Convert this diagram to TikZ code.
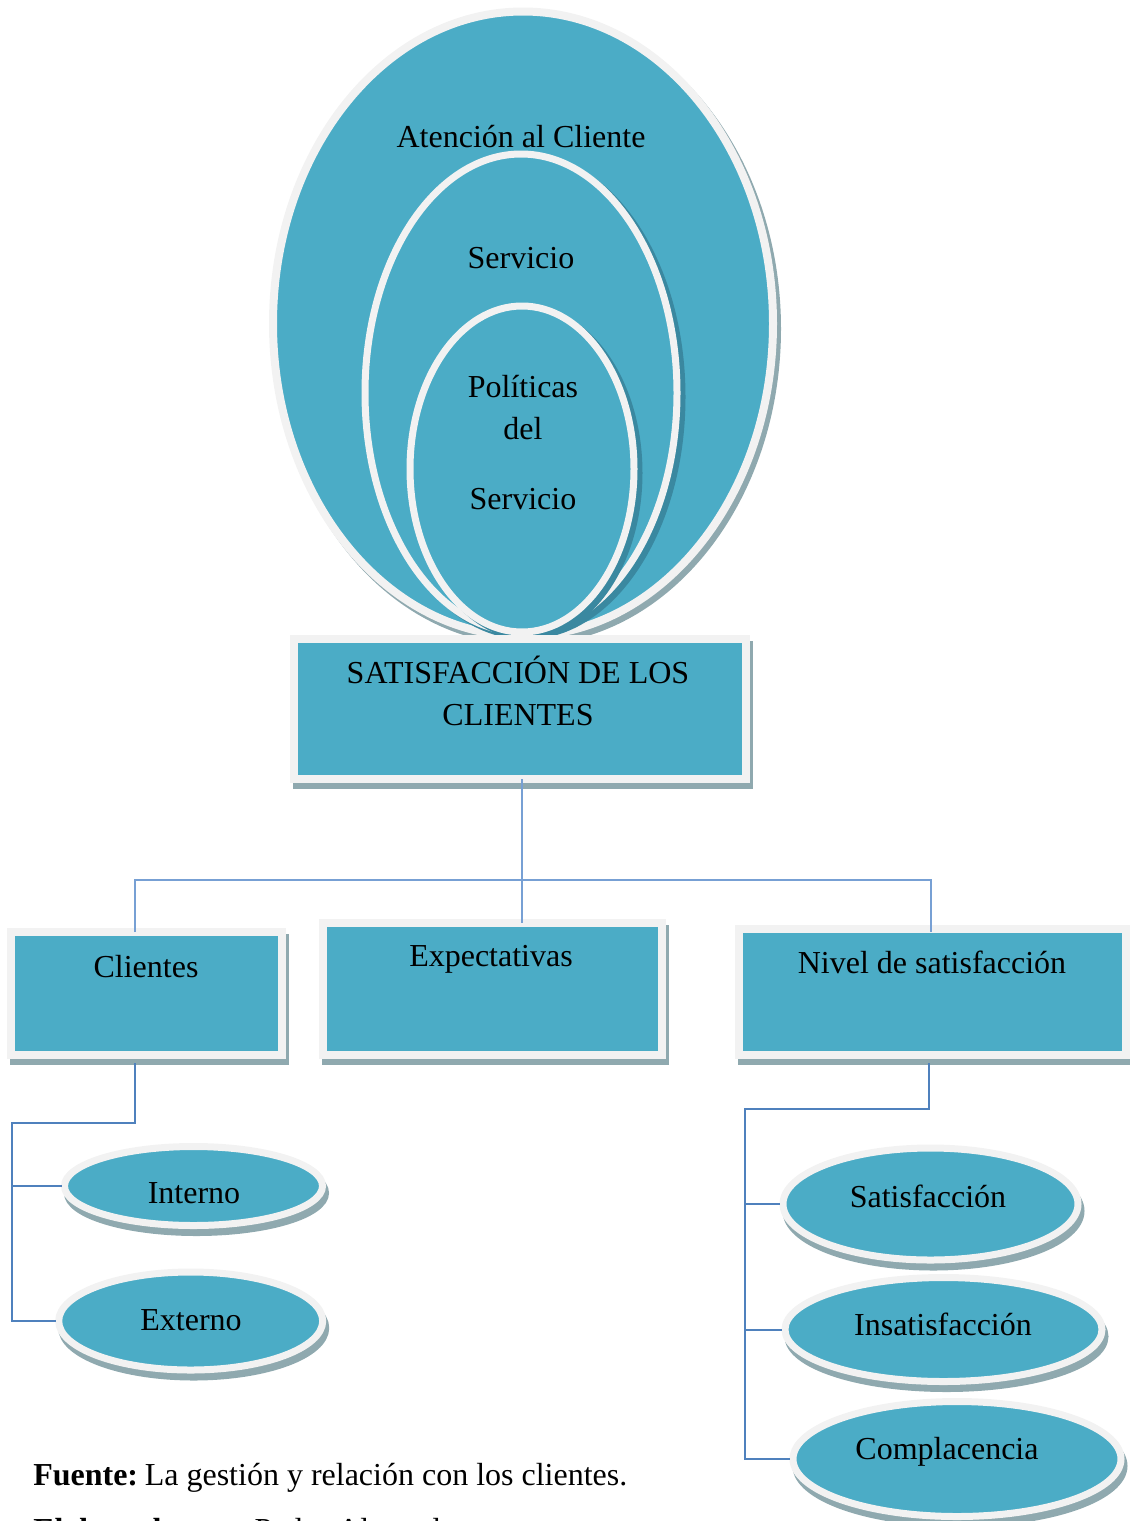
\documentclass[tikz,border=0pt]{standalone}
\usepackage{fontspec}
\setmainfont{Liberation Serif}
\usetikzlibrary{shapes.geometric,shadows}

\definecolor{aqua}{HTML}{4BACC6}
\definecolor{rim}{HTML}{F2F2F2}
\definecolor{shadeout}{HTML}{8FA9AF}
\definecolor{shadein}{HTML}{3A88A0}
\definecolor{wire}{HTML}{4F81BD}
\definecolor{wirelight}{HTML}{77A0D4}

\begin{document}
\begin{tikzpicture}[x=0.75pt, y=-0.75pt,
  every node/.style={font=\fontsize{24}{28}\selectfont},
  % ellipse given by its half axes (in px)
  oval/.style 2 args={ellipse, minimum width=#1*1.5pt, minimum height=#2*1.5pt,
    fill=aqua, draw=rim, inner sep=0pt, outer sep=0pt},
  % rectangle given by its full size (in px)
  panel/.style 2 args={rectangle, minimum width=#1*0.75pt, minimum height=#2*0.75pt,
    fill=aqua, draw=rim, line width=6pt, inner sep=0pt, outer sep=0pt},
  bigshade/.style={drop shadow={shadow xshift=3pt, shadow yshift=-3.75pt,
    fill=shadeout, draw=shadeout, line width=6pt, opacity=1}},
  innershade/.style={drop shadow={shadow xshift=3.75pt, shadow yshift=-3pt,
    fill=shadein, draw=shadein, line width=5.25pt, opacity=1}},
  boxshade/.style={drop shadow={shadow xshift=2.25pt, shadow yshift=-4.5pt,
    fill=shadeout, draw=shadeout, line width=6pt, opacity=1}},
  pillshade/.style={drop shadow={shadow xshift=2.25pt, shadow yshift=-5.25pt,
    fill=shadeout, draw=shadeout, line width=5.25pt, opacity=1}},
  lbl/.style={inner sep=0pt, anchor=base},
  thinwire/.style={draw=wirelight, line width=0.9pt},
  thickwire/.style={draw=wire, line width=1.5pt},
]
\clip (0,0) rectangle (1130,1521);

% nested ellipses
\node[oval={250}{312.25}, line width=6pt, bigshade] (atencion) at (523,323.75) {};
\node[oval={156}{239}, line width=5.25pt, innershade] (servicio) at (521,393) {};
\node[oval={112}{163}, line width=5.25pt, innershade] (politicas) at (522,469) {};

\node[lbl] (tAtencion) at (521,147) {Atención al Cliente};
\node[lbl] (tServicio) at (521,268) {Servicio};
\node[lbl] (tPol1) at (523,397) {Políticas};
\node[lbl] (tPol2) at (523,439) {del};
\node[lbl] (tPol3) at (523,509) {Servicio};

% central box
\node[panel={452}{140}, boxshade] (sat) at (519.5,709) {};
\node[lbl] (tSat1) at (518,683) {SATISFACCIÓN DE LOS};
\node[lbl] (tSat2) at (518,725) {CLIENTES};

% lower connector bends
\coordinate (cliFoot) at (135,1063);
\coordinate (lbend) at (12,1123);
\coordinate (nivFoot) at (929,1063);
\coordinate (rbend) at (745,1109);

% leaf ellipses
\node[oval={129}{39.5}, line width=5.25pt, pillshade] (int) at (193.5,1186) {};
\node[oval={132}{49}, line width=5.25pt, pillshade] (ext) at (190.7,1321) {};
\node[oval={147.5}{56}, line width=5.25pt, pillshade] (sat1) at (930.5,1204) {};
\node[oval={158.5}{52}, line width=5.25pt, pillshade] (ins) at (943.5,1329.5) {};
\node[oval={164}{57.5}, line width=5.25pt, pillshade] (com) at (957,1459) {};

% second row of boxes
\node[panel={271.5}{123}, boxshade] (cli) at (146.25,993.5) {};
\node[panel={339.5}{132.5}, boxshade] (exp) at (492.25,988.75) {};
\node[panel={387.5}{125.5}, boxshade] (niv) at (932.25,991.75) {};

\node[lbl] (tCli) at (146,977) {Clientes};
\node[lbl] (tExp) at (491,966) {Expectativas};
\node[lbl] (tNiv) at (932,973) {Nivel de satisfacción};

% connectors from the boxes to the ellipses
\draw[thickwire] (cliFoot) |- (lbend) |- ([xshift=-2pt]ext.west);
\draw[thickwire] (lbend |- int.west) -- ([xshift=-2pt]int.west);
\draw[thickwire] (nivFoot) |- (rbend) |- ([xshift=-2pt]com.west);
\draw[thickwire] (rbend |- sat1.west) -- ([xshift=-2pt]sat1.west);
\draw[thickwire] (rbend |- ins.west) -- ([xshift=-2pt]ins.west);

% ellipse texts
\node[lbl] (tInt) at (194,1203) {Interno};
\node[lbl] (tExt) at (191,1330) {Externo};
\node[lbl] (tSatf) at (928,1207) {Satisfacción};
\node[lbl] (tIns) at (943,1335) {Insatisfacción};
\node[lbl] (tCom) at (947,1459) {Complacencia};

% tree connectors from the central box
\coordinate (hub) at (522,880);
\coordinate (cliTop) at (135,932);
\coordinate (nivTop) at (931,932);
\draw[thinwire] (sat.south -| hub) -- (exp.north -| hub);
\draw[thinwire] (cliTop) |- (hub) -| (nivTop);

% source notes
\node[lbl, anchor=base west] (fuente) at (33,1485) {\textbf{Fuente:}\kern-3pt{} La gestión y relación con los clientes.};
\node[lbl, anchor=base west] (elab) at (33,1540) {\textbf{Elaborado por:} Pedro Alvarado};
\end{tikzpicture}
\end{document}
